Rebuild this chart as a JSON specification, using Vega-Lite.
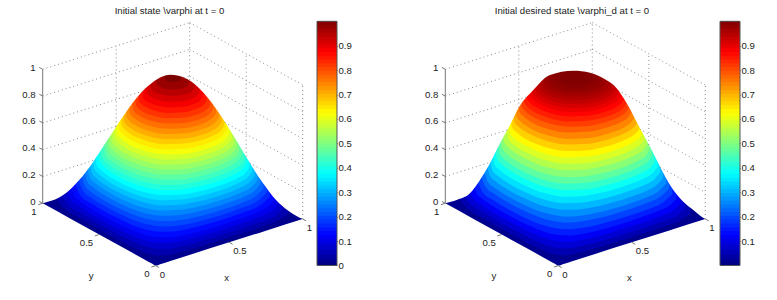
{"$schema":"https://vega.github.io/schema/vega-lite/v6.json","padding":0,"background":"white","spacing":0,"bounds":"flush","config":{"view":{"stroke":null}},
"datasets":{
"levels":[{"s":0,"r":0,"k":0.016},{"s":0.03,"r":0.033,"k":0.05},{"s":0.06,"r":0.066,"k":0.083},{"s":0.09,"r":0.1,"k":0.117},{"s":0.12,"r":0.135,"k":0.152},{"s":0.15,"r":0.17,"k":0.19},{"s":0.18,"r":0.21,"k":0.227},{"s":0.21,"r":0.245,"k":0.265},{"s":0.24,"r":0.285,"k":0.305},{"s":0.27,"r":0.325,"k":0.345},{"s":0.3,"r":0.365,"k":0.385},{"s":0.33,"r":0.405,"k":0.425},{"s":0.36,"r":0.445,"k":0.466},{"s":0.39,"r":0.487,"k":0.508},{"s":0.42,"r":0.53,"k":0.55},{"s":0.45,"r":0.57,"k":0.59},{"s":0.48,"r":0.61,"k":0.63},{"s":0.51,"r":0.65,"k":0.67},{"s":0.54,"r":0.69,"k":0.708},{"s":0.57,"r":0.725,"k":0.745},{"s":0.6,"r":0.765,"k":0.782},{"s":0.63,"r":0.8,"k":0.815},{"s":0.66,"r":0.83,"k":0.845},{"s":0.69,"r":0.86,"k":0.872},{"s":0.72,"r":0.885,"k":0.895},{"s":0.75,"r":0.905,"k":0.915},{"s":0.78,"r":0.925,"k":0.935},{"s":0.81,"r":0.945,"k":0.952},{"s":0.84,"r":0.96,"k":0.965},{"s":0.87,"r":0.97,"k":0.975},{"s":0.9,"r":0.98,"k":0.985},{"s":0.93,"r":0.99,"k":0.992},{"s":0.96,"r":0.995,"k":0.997},{"s":0.99,"r":1,"k":1}],
"contours":[
{"s":0,"x":0,"y":1},{"s":0,"x":0,"y":0.75},{"s":0,"x":0,"y":0.5},{"s":0,"x":0,"y":0.25},{"s":0,"x":0,"y":0.1},{"s":0,"x":0,"y":0.03},{"s":0,"x":0,"y":0},{"s":0,"x":0.03,"y":0},{"s":0,"x":0.1,"y":0},{"s":0,"x":0.25,"y":0},{"s":0,"x":0.5,"y":0},{"s":0,"x":0.75,"y":0},{"s":0,"x":1,"y":0},
{"s":0.03,"x":0.056,"y":0.944},{"s":0.03,"x":0.018,"y":0.824},{"s":0.03,"x":0.012,"y":0.707},{"s":0.03,"x":0.01,"y":0.593},{"s":0.03,"x":0.01,"y":0.482},{"s":0.03,"x":0.01,"y":0.371},{"s":0.03,"x":0.013,"y":0.263},{"s":0.03,"x":0.02,"y":0.159},{"s":0.03,"x":0.034,"y":0.09},{"s":0.03,"x":0.056,"y":0.056},{"s":0.03,"x":0.09,"y":0.034},{"s":0.03,"x":0.159,"y":0.02},{"s":0.03,"x":0.263,"y":0.013},{"s":0.03,"x":0.371,"y":0.01},{"s":0.03,"x":0.482,"y":0.01},{"s":0.03,"x":0.593,"y":0.01},{"s":0.03,"x":0.707,"y":0.012},{"s":0.03,"x":0.824,"y":0.018},{"s":0.03,"x":0.944,"y":0.056},
{"s":0.06,"x":0.079,"y":0.921},{"s":0.06,"x":0.041,"y":0.847},{"s":0.06,"x":0.025,"y":0.719},{"s":0.06,"x":0.02,"y":0.604},{"s":0.06,"x":0.019,"y":0.491},{"s":0.06,"x":0.02,"y":0.382},{"s":0.06,"x":0.025,"y":0.275},{"s":0.06,"x":0.037,"y":0.176},{"s":0.06,"x":0.056,"y":0.111},{"s":0.06,"x":0.079,"y":0.079},{"s":0.06,"x":0.111,"y":0.056},{"s":0.06,"x":0.176,"y":0.037},{"s":0.06,"x":0.275,"y":0.025},{"s":0.06,"x":0.382,"y":0.02},{"s":0.06,"x":0.491,"y":0.019},{"s":0.06,"x":0.604,"y":0.02},{"s":0.06,"x":0.719,"y":0.025},{"s":0.06,"x":0.847,"y":0.041},{"s":0.06,"x":0.921,"y":0.079},
{"s":0.09,"x":0.097,"y":0.903},{"s":0.09,"x":0.059,"y":0.836},{"s":0.09,"x":0.039,"y":0.733},{"s":0.09,"x":0.031,"y":0.614},{"s":0.09,"x":0.029,"y":0.501},{"s":0.09,"x":0.03,"y":0.391},{"s":0.09,"x":0.036,"y":0.287},{"s":0.09,"x":0.051,"y":0.19},{"s":0.09,"x":0.073,"y":0.129},{"s":0.09,"x":0.097,"y":0.097},{"s":0.09,"x":0.129,"y":0.073},{"s":0.09,"x":0.19,"y":0.051},{"s":0.09,"x":0.287,"y":0.036},{"s":0.09,"x":0.391,"y":0.03},{"s":0.09,"x":0.501,"y":0.029},{"s":0.09,"x":0.614,"y":0.031},{"s":0.09,"x":0.733,"y":0.039},{"s":0.09,"x":0.836,"y":0.059},{"s":0.09,"x":0.903,"y":0.097},
{"s":0.12,"x":0.112,"y":0.888},{"s":0.12,"x":0.067,"y":0.806},{"s":0.12,"x":0.054,"y":0.749},{"s":0.12,"x":0.041,"y":0.625},{"s":0.12,"x":0.038,"y":0.511},{"s":0.12,"x":0.04,"y":0.401},{"s":0.12,"x":0.048,"y":0.298},{"s":0.12,"x":0.064,"y":0.203},{"s":0.12,"x":0.088,"y":0.144},{"s":0.12,"x":0.1125,"y":0.1125},{"s":0.12,"x":0.144,"y":0.088},{"s":0.12,"x":0.203,"y":0.064},{"s":0.12,"x":0.298,"y":0.048},{"s":0.12,"x":0.401,"y":0.04},{"s":0.12,"x":0.511,"y":0.038},{"s":0.12,"x":0.625,"y":0.041},{"s":0.12,"x":0.749,"y":0.054},{"s":0.12,"x":0.806,"y":0.067},{"s":0.12,"x":0.888,"y":0.112},
{"s":0.15,"x":0.127,"y":0.873},{"s":0.15,"x":0.072,"y":0.766},{"s":0.15,"x":0.053,"y":0.636},{"s":0.15,"x":0.048,"y":0.52},{"s":0.15,"x":0.05,"y":0.411},{"s":0.15,"x":0.058,"y":0.308},{"s":0.15,"x":0.077,"y":0.216},{"s":0.15,"x":0.102,"y":0.158},{"s":0.15,"x":0.127,"y":0.127},{"s":0.15,"x":0.158,"y":0.102},{"s":0.15,"x":0.216,"y":0.077},{"s":0.15,"x":0.308,"y":0.058},{"s":0.15,"x":0.411,"y":0.05},{"s":0.15,"x":0.52,"y":0.048},{"s":0.15,"x":0.636,"y":0.053},{"s":0.15,"x":0.766,"y":0.072},{"s":0.15,"x":0.873,"y":0.127},
{"s":0.18,"x":0.139,"y":0.861},{"s":0.18,"x":0.081,"y":0.748},{"s":0.18,"x":0.064,"y":0.648},{"s":0.18,"x":0.058,"y":0.53},{"s":0.18,"x":0.059,"y":0.421},{"s":0.18,"x":0.069,"y":0.319},{"s":0.18,"x":0.089,"y":0.228},{"s":0.18,"x":0.115,"y":0.17},{"s":0.18,"x":0.139,"y":0.139},{"s":0.18,"x":0.17,"y":0.115},{"s":0.18,"x":0.228,"y":0.089},{"s":0.18,"x":0.319,"y":0.069},{"s":0.18,"x":0.421,"y":0.059},{"s":0.18,"x":0.53,"y":0.058},{"s":0.18,"x":0.648,"y":0.064},{"s":0.18,"x":0.748,"y":0.081},{"s":0.18,"x":0.861,"y":0.139},
{"s":0.21,"x":0.151,"y":0.849},{"s":0.21,"x":0.097,"y":0.752},{"s":0.21,"x":0.077,"y":0.661},{"s":0.21,"x":0.068,"y":0.54},{"s":0.21,"x":0.069,"y":0.43},{"s":0.21,"x":0.079,"y":0.329},{"s":0.21,"x":0.1,"y":0.239},{"s":0.21,"x":0.127,"y":0.182},{"s":0.21,"x":0.151,"y":0.151},{"s":0.21,"x":0.182,"y":0.127},{"s":0.21,"x":0.239,"y":0.1},{"s":0.21,"x":0.329,"y":0.079},{"s":0.21,"x":0.43,"y":0.069},{"s":0.21,"x":0.54,"y":0.068},{"s":0.21,"x":0.661,"y":0.077},{"s":0.21,"x":0.752,"y":0.097},{"s":0.21,"x":0.849,"y":0.151},
{"s":0.24,"x":0.163,"y":0.837},{"s":0.24,"x":0.11,"y":0.749},{"s":0.24,"x":0.09,"y":0.674},{"s":0.24,"x":0.078,"y":0.55},{"s":0.24,"x":0.079,"y":0.44},{"s":0.24,"x":0.089,"y":0.339},{"s":0.24,"x":0.11,"y":0.25},{"s":0.24,"x":0.138,"y":0.194},{"s":0.24,"x":0.163,"y":0.163},{"s":0.24,"x":0.194,"y":0.138},{"s":0.24,"x":0.25,"y":0.11},{"s":0.24,"x":0.339,"y":0.089},{"s":0.24,"x":0.44,"y":0.079},{"s":0.24,"x":0.55,"y":0.078},{"s":0.24,"x":0.674,"y":0.09},{"s":0.24,"x":0.749,"y":0.11},{"s":0.24,"x":0.837,"y":0.163},
{"s":0.27,"x":0.174,"y":0.826},{"s":0.27,"x":0.123,"y":0.745},{"s":0.27,"x":0.099,"y":0.654},{"s":0.27,"x":0.089,"y":0.561},{"s":0.27,"x":0.088,"y":0.449},{"s":0.27,"x":0.098,"y":0.348},{"s":0.27,"x":0.121,"y":0.26},{"s":0.27,"x":0.174,"y":0.174},{"s":0.27,"x":0.26,"y":0.121},{"s":0.27,"x":0.348,"y":0.098},{"s":0.27,"x":0.449,"y":0.088},{"s":0.27,"x":0.561,"y":0.089},{"s":0.27,"x":0.654,"y":0.099},{"s":0.27,"x":0.745,"y":0.123},{"s":0.27,"x":0.826,"y":0.174},
{"s":0.3,"x":0.184,"y":0.816},{"s":0.3,"x":0.135,"y":0.741},{"s":0.3,"x":0.113,"y":0.669},{"s":0.3,"x":0.1,"y":0.572},{"s":0.3,"x":0.098,"y":0.459},{"s":0.3,"x":0.108,"y":0.358},{"s":0.3,"x":0.131,"y":0.27},{"s":0.3,"x":0.184,"y":0.184},{"s":0.3,"x":0.27,"y":0.131},{"s":0.3,"x":0.358,"y":0.108},{"s":0.3,"x":0.459,"y":0.098},{"s":0.3,"x":0.572,"y":0.1},{"s":0.3,"x":0.669,"y":0.113},{"s":0.3,"x":0.741,"y":0.135},{"s":0.3,"x":0.816,"y":0.184},
{"s":0.33,"x":0.195,"y":0.805},{"s":0.33,"x":0.148,"y":0.737},{"s":0.33,"x":0.124,"y":0.663},{"s":0.33,"x":0.111,"y":0.583},{"s":0.33,"x":0.108,"y":0.469},{"s":0.33,"x":0.118,"y":0.368},{"s":0.33,"x":0.141,"y":0.28},{"s":0.33,"x":0.195,"y":0.195},{"s":0.33,"x":0.28,"y":0.141},{"s":0.33,"x":0.368,"y":0.118},{"s":0.33,"x":0.469,"y":0.108},{"s":0.33,"x":0.583,"y":0.111},{"s":0.33,"x":0.663,"y":0.124},{"s":0.33,"x":0.737,"y":0.148},{"s":0.33,"x":0.805,"y":0.195},
{"s":0.36,"x":0.205,"y":0.795},{"s":0.36,"x":0.161,"y":0.733},{"s":0.36,"x":0.138,"y":0.671},{"s":0.36,"x":0.123,"y":0.595},{"s":0.36,"x":0.118,"y":0.479},{"s":0.36,"x":0.127,"y":0.377},{"s":0.36,"x":0.151,"y":0.29},{"s":0.36,"x":0.205,"y":0.205},{"s":0.36,"x":0.29,"y":0.151},{"s":0.36,"x":0.377,"y":0.127},{"s":0.36,"x":0.479,"y":0.118},{"s":0.36,"x":0.595,"y":0.123},{"s":0.36,"x":0.671,"y":0.138},{"s":0.36,"x":0.733,"y":0.161},{"s":0.36,"x":0.795,"y":0.205},
{"s":0.39,"x":0.215,"y":0.785},{"s":0.39,"x":0.174,"y":0.729},{"s":0.39,"x":0.151,"y":0.673},{"s":0.39,"x":0.133,"y":0.589},{"s":0.39,"x":0.127,"y":0.489},{"s":0.39,"x":0.137,"y":0.387},{"s":0.39,"x":0.16,"y":0.3},{"s":0.39,"x":0.215,"y":0.215},{"s":0.39,"x":0.3,"y":0.16},{"s":0.39,"x":0.387,"y":0.137},{"s":0.39,"x":0.489,"y":0.127},{"s":0.39,"x":0.589,"y":0.133},{"s":0.39,"x":0.673,"y":0.151},{"s":0.39,"x":0.729,"y":0.174},{"s":0.39,"x":0.785,"y":0.215},
{"s":0.42,"x":0.224,"y":0.776},{"s":0.42,"x":0.186,"y":0.726},{"s":0.42,"x":0.164,"y":0.675},{"s":0.42,"x":0.144,"y":0.588},{"s":0.42,"x":0.138,"y":0.499},{"s":0.42,"x":0.146,"y":0.396},{"s":0.42,"x":0.17,"y":0.309},{"s":0.42,"x":0.224,"y":0.224},{"s":0.42,"x":0.309,"y":0.17},{"s":0.42,"x":0.396,"y":0.146},{"s":0.42,"x":0.499,"y":0.138},{"s":0.42,"x":0.588,"y":0.144},{"s":0.42,"x":0.675,"y":0.164},{"s":0.42,"x":0.726,"y":0.186},{"s":0.42,"x":0.776,"y":0.224},
{"s":0.45,"x":0.234,"y":0.766},{"s":0.45,"x":0.2,"y":0.722},{"s":0.45,"x":0.175,"y":0.67},{"s":0.45,"x":0.155,"y":0.588},{"s":0.45,"x":0.149,"y":0.493},{"s":0.45,"x":0.156,"y":0.406},{"s":0.45,"x":0.18,"y":0.319},{"s":0.45,"x":0.234,"y":0.234},{"s":0.45,"x":0.319,"y":0.18},{"s":0.45,"x":0.406,"y":0.156},{"s":0.45,"x":0.493,"y":0.149},{"s":0.45,"x":0.588,"y":0.155},{"s":0.45,"x":0.67,"y":0.175},{"s":0.45,"x":0.722,"y":0.2},{"s":0.45,"x":0.766,"y":0.234},
{"s":0.48,"x":0.244,"y":0.756},{"s":0.48,"x":0.213,"y":0.719},{"s":0.48,"x":0.19,"y":0.673},{"s":0.48,"x":0.166,"y":0.589},{"s":0.48,"x":0.16,"y":0.493},{"s":0.48,"x":0.166,"y":0.416},{"s":0.48,"x":0.189,"y":0.328},{"s":0.48,"x":0.244,"y":0.244},{"s":0.48,"x":0.328,"y":0.189},{"s":0.48,"x":0.416,"y":0.166},{"s":0.48,"x":0.493,"y":0.16},{"s":0.48,"x":0.589,"y":0.166},{"s":0.48,"x":0.673,"y":0.19},{"s":0.48,"x":0.719,"y":0.213},{"s":0.48,"x":0.756,"y":0.244},
{"s":0.51,"x":0.253,"y":0.747},{"s":0.51,"x":0.228,"y":0.717},{"s":0.51,"x":0.205,"y":0.677},{"s":0.51,"x":0.18,"y":0.596},{"s":0.51,"x":0.17,"y":0.504},{"s":0.51,"x":0.176,"y":0.426},{"s":0.51,"x":0.199,"y":0.338},{"s":0.51,"x":0.253,"y":0.253},{"s":0.51,"x":0.338,"y":0.199},{"s":0.51,"x":0.426,"y":0.176},{"s":0.51,"x":0.504,"y":0.17},{"s":0.51,"x":0.596,"y":0.18},{"s":0.51,"x":0.677,"y":0.205},{"s":0.51,"x":0.717,"y":0.228},{"s":0.51,"x":0.747,"y":0.253},
{"s":0.54,"x":0.263,"y":0.737},{"s":0.54,"x":0.244,"y":0.717},{"s":0.54,"x":0.212,"y":0.663},{"s":0.54,"x":0.19,"y":0.59},{"s":0.54,"x":0.182,"y":0.515},{"s":0.54,"x":0.186,"y":0.436},{"s":0.54,"x":0.208,"y":0.347},{"s":0.54,"x":0.263,"y":0.263},{"s":0.54,"x":0.347,"y":0.208},{"s":0.54,"x":0.436,"y":0.186},{"s":0.54,"x":0.515,"y":0.182},{"s":0.54,"x":0.59,"y":0.19},{"s":0.54,"x":0.663,"y":0.212},{"s":0.54,"x":0.717,"y":0.244},{"s":0.54,"x":0.737,"y":0.263},
{"s":0.57,"x":0.272,"y":0.728},{"s":0.57,"x":0.23,"y":0.668},{"s":0.57,"x":0.206,"y":0.606},{"s":0.57,"x":0.194,"y":0.527},{"s":0.57,"x":0.196,"y":0.446},{"s":0.57,"x":0.218,"y":0.357},{"s":0.57,"x":0.272,"y":0.272},{"s":0.57,"x":0.357,"y":0.218},{"s":0.57,"x":0.446,"y":0.196},{"s":0.57,"x":0.527,"y":0.194},{"s":0.57,"x":0.606,"y":0.206},{"s":0.57,"x":0.668,"y":0.23},{"s":0.57,"x":0.728,"y":0.272},
{"s":0.6,"x":0.282,"y":0.718},{"s":0.6,"x":0.237,"y":0.653},{"s":0.6,"x":0.216,"y":0.593},{"s":0.6,"x":0.205,"y":0.51},{"s":0.6,"x":0.21,"y":0.432},{"s":0.6,"x":0.228,"y":0.367},{"s":0.6,"x":0.282,"y":0.282},{"s":0.6,"x":0.367,"y":0.228},{"s":0.6,"x":0.432,"y":0.21},{"s":0.6,"x":0.51,"y":0.205},{"s":0.6,"x":0.593,"y":0.216},{"s":0.6,"x":0.653,"y":0.237},{"s":0.6,"x":0.718,"y":0.282},
{"s":0.63,"x":0.292,"y":0.708},{"s":0.63,"x":0.25,"y":0.65},{"s":0.63,"x":0.229,"y":0.596},{"s":0.63,"x":0.218,"y":0.523},{"s":0.63,"x":0.221,"y":0.443},{"s":0.63,"x":0.238,"y":0.377},{"s":0.63,"x":0.292,"y":0.292},{"s":0.63,"x":0.377,"y":0.238},{"s":0.63,"x":0.443,"y":0.221},{"s":0.63,"x":0.523,"y":0.218},{"s":0.63,"x":0.596,"y":0.229},{"s":0.63,"x":0.65,"y":0.25},{"s":0.63,"x":0.708,"y":0.292},
{"s":0.66,"x":0.302,"y":0.698},{"s":0.66,"x":0.264,"y":0.647},{"s":0.66,"x":0.242,"y":0.592},{"s":0.66,"x":0.23,"y":0.519},{"s":0.66,"x":0.232,"y":0.454},{"s":0.66,"x":0.249,"y":0.388},{"s":0.66,"x":0.302,"y":0.302},{"s":0.66,"x":0.388,"y":0.249},{"s":0.66,"x":0.454,"y":0.232},{"s":0.66,"x":0.519,"y":0.23},{"s":0.66,"x":0.592,"y":0.242},{"s":0.66,"x":0.647,"y":0.264},{"s":0.66,"x":0.698,"y":0.302},
{"s":0.69,"x":0.312,"y":0.688},{"s":0.69,"x":0.276,"y":0.64},{"s":0.69,"x":0.254,"y":0.588},{"s":0.69,"x":0.243,"y":0.521},{"s":0.69,"x":0.245,"y":0.456},{"s":0.69,"x":0.259,"y":0.398},{"s":0.69,"x":0.312,"y":0.312},{"s":0.69,"x":0.398,"y":0.259},{"s":0.69,"x":0.456,"y":0.245},{"s":0.69,"x":0.521,"y":0.243},{"s":0.69,"x":0.588,"y":0.254},{"s":0.69,"x":0.64,"y":0.276},{"s":0.69,"x":0.688,"y":0.312},
{"s":0.72,"x":0.322,"y":0.678},{"s":0.72,"x":0.289,"y":0.634},{"s":0.72,"x":0.268,"y":0.585},{"s":0.72,"x":0.257,"y":0.523},{"s":0.72,"x":0.258,"y":0.469},{"s":0.72,"x":0.27,"y":0.409},{"s":0.72,"x":0.3225,"y":0.3225},{"s":0.72,"x":0.409,"y":0.27},{"s":0.72,"x":0.469,"y":0.258},{"s":0.72,"x":0.523,"y":0.257},{"s":0.72,"x":0.585,"y":0.268},{"s":0.72,"x":0.634,"y":0.289},{"s":0.72,"x":0.678,"y":0.322},
{"s":0.75,"x":0.333,"y":0.667},{"s":0.75,"x":0.304,"y":0.629},{"s":0.75,"x":0.283,"y":0.583},{"s":0.75,"x":0.271,"y":0.521},{"s":0.75,"x":0.272,"y":0.466},{"s":0.75,"x":0.281,"y":0.421},{"s":0.75,"x":0.333,"y":0.333},{"s":0.75,"x":0.421,"y":0.281},{"s":0.75,"x":0.466,"y":0.272},{"s":0.75,"x":0.521,"y":0.271},{"s":0.75,"x":0.583,"y":0.283},{"s":0.75,"x":0.629,"y":0.304},{"s":0.75,"x":0.667,"y":0.333},
{"s":0.78,"x":0.345,"y":0.655},{"s":0.78,"x":0.321,"y":0.626},{"s":0.78,"x":0.302,"y":0.591},{"s":0.78,"x":0.287,"y":0.537},{"s":0.78,"x":0.285,"y":0.48},{"s":0.78,"x":0.298,"y":0.42},{"s":0.78,"x":0.345,"y":0.345},{"s":0.78,"x":0.42,"y":0.298},{"s":0.78,"x":0.48,"y":0.285},{"s":0.78,"x":0.537,"y":0.287},{"s":0.78,"x":0.591,"y":0.302},{"s":0.78,"x":0.626,"y":0.321},{"s":0.78,"x":0.655,"y":0.345},
{"s":0.81,"x":0.356,"y":0.644},{"s":0.81,"x":0.337,"y":0.62},{"s":0.81,"x":0.317,"y":0.583},{"s":0.81,"x":0.302,"y":0.53},{"s":0.81,"x":0.301,"y":0.479},{"s":0.81,"x":0.311,"y":0.433},{"s":0.81,"x":0.356,"y":0.356},{"s":0.81,"x":0.433,"y":0.311},{"s":0.81,"x":0.479,"y":0.301},{"s":0.81,"x":0.53,"y":0.302},{"s":0.81,"x":0.583,"y":0.317},{"s":0.81,"x":0.62,"y":0.337},{"s":0.81,"x":0.644,"y":0.356},
{"s":0.84,"x":0.369,"y":0.631},{"s":0.84,"x":0.351,"y":0.609},{"s":0.84,"x":0.333,"y":0.578},{"s":0.84,"x":0.32,"y":0.531},{"s":0.84,"x":0.318,"y":0.485},{"s":0.84,"x":0.327,"y":0.438},{"s":0.84,"x":0.369,"y":0.369},{"s":0.84,"x":0.438,"y":0.327},{"s":0.84,"x":0.485,"y":0.318},{"s":0.84,"x":0.531,"y":0.32},{"s":0.84,"x":0.578,"y":0.333},{"s":0.84,"x":0.609,"y":0.351},{"s":0.84,"x":0.631,"y":0.369},
{"s":0.87,"x":0.383,"y":0.617},{"s":0.87,"x":0.348,"y":0.565},{"s":0.87,"x":0.337,"y":0.52},{"s":0.87,"x":0.337,"y":0.481},{"s":0.87,"x":0.345,"y":0.445},{"s":0.87,"x":0.383,"y":0.383},{"s":0.87,"x":0.445,"y":0.345},{"s":0.87,"x":0.481,"y":0.337},{"s":0.87,"x":0.52,"y":0.337},{"s":0.87,"x":0.565,"y":0.348},{"s":0.87,"x":0.617,"y":0.383},
{"s":0.9,"x":0.397,"y":0.603},{"s":0.9,"x":0.367,"y":0.556},{"s":0.9,"x":0.358,"y":0.519},{"s":0.9,"x":0.357,"y":0.485},{"s":0.9,"x":0.364,"y":0.453},{"s":0.9,"x":0.3975,"y":0.3975},{"s":0.9,"x":0.453,"y":0.364},{"s":0.9,"x":0.485,"y":0.357},{"s":0.9,"x":0.519,"y":0.358},{"s":0.9,"x":0.556,"y":0.367},{"s":0.9,"x":0.603,"y":0.397},
{"s":0.93,"x":0.415,"y":0.585},{"s":0.93,"x":0.388,"y":0.544},{"s":0.93,"x":0.381,"y":0.514},{"s":0.93,"x":0.381,"y":0.486},{"s":0.93,"x":0.387,"y":0.459},{"s":0.93,"x":0.415,"y":0.415},{"s":0.93,"x":0.459,"y":0.387},{"s":0.93,"x":0.486,"y":0.381},{"s":0.93,"x":0.514,"y":0.381},{"s":0.93,"x":0.544,"y":0.388},{"s":0.93,"x":0.585,"y":0.415},
{"s":0.96,"x":0.436,"y":0.564},{"s":0.96,"x":0.413,"y":0.524},{"s":0.96,"x":0.41,"y":0.499},{"s":0.96,"x":0.413,"y":0.474},{"s":0.96,"x":0.436,"y":0.436},{"s":0.96,"x":0.474,"y":0.413},{"s":0.96,"x":0.499,"y":0.41},{"s":0.96,"x":0.524,"y":0.413},{"s":0.96,"x":0.564,"y":0.436},
{"s":0.99,"x":0.468,"y":0.532},{"s":0.99,"x":0.455,"y":0.5},{"s":0.99,"x":0.468,"y":0.468},{"s":0.99,"x":0.5,"y":0.455},{"s":0.99,"x":0.532,"y":0.468}
],
"outlineL":[{"u":-115,"v":61.8},{"u":-113,"v":62.4},{"u":-95.7,"v":68.7},{"u":-89.3,"v":72.9},{"u":-76.5,"v":85.6},{"u":-62.9,"v":103.3},{"u":-49.1,"v":124.4},{"u":-34.3,"v":147},{"u":-18.7,"v":168.3},{"u":-2.3,"v":183.9},{"u":14.5,"v":190.9},{"u":31.4,"v":186.8},{"u":48.1,"v":172.8},{"u":64,"v":151.7},{"u":79.4,"v":127.5},{"u":93.6,"v":103.6},{"u":107.2,"v":82.6},{"u":120.3,"v":65.7},{"u":133,"v":54.6},{"u":147,"v":46.7},{"u":149,"v":46}],
"outlineR":[{"u":-115,"v":61.8},{"u":-113,"v":62.4},{"u":-101.6,"v":65.7},{"u":-88.3,"v":72.4},{"u":-78.3,"v":85.7},{"u":-68.3,"v":102.4},{"u":-58.3,"v":122.4},{"u":-48.3,"v":140.7},{"u":-40,"v":157.4},{"u":-25,"v":175.7},{"u":-8.3,"v":190.7},{"u":15,"v":195},{"u":31.7,"v":193},{"u":45,"v":187.4},{"u":58.4,"v":177.4},{"u":68.4,"v":162.4},{"u":81.7,"v":137.4},{"u":93.4,"v":115.7},{"u":101.7,"v":99},{"u":111.7,"v":80.7},{"u":125,"v":64},{"u":135,"v":55.7},{"u":147,"v":46.7},{"u":149,"v":46}],
"wallsL":[{"id":"a","x":0,"y":1,"z":1},{"id":"a","x":1,"y":1,"z":1},{"id":"b","x":0,"y":1,"z":0.8},{"id":"b","x":1,"y":1,"z":0.8},{"id":"c","x":0,"y":1,"z":0.6},{"id":"c","x":0.69,"y":1,"z":0.6},{"id":"c2","x":0.96,"y":1,"z":0.6},{"id":"c2","x":1,"y":1,"z":0.6},{"id":"d","x":0,"y":1,"z":0.4},{"id":"d","x":0.5,"y":1,"z":0.4},{"id":"e","x":0,"y":1,"z":0.2},{"id":"e","x":0.356,"y":1,"z":0.2},{"id":"f","x":1,"y":1,"z":1},{"id":"f","x":1,"y":0,"z":1},{"id":"g","x":1,"y":1,"z":0.8},{"id":"g","x":1,"y":0,"z":0.8},{"id":"h","x":1,"y":1,"z":0.6},{"id":"h","x":1,"y":0,"z":0.6},{"id":"i","x":1,"y":0.69,"z":0.4},{"id":"i","x":1,"y":0,"z":0.4},{"id":"j","x":1,"y":0.47,"z":0.2},{"id":"j","x":1,"y":0,"z":0.2},{"id":"k","x":1,"y":1,"z":0.57},{"id":"k","x":1,"y":1,"z":1},{"id":"l","x":0.5,"y":1,"z":0.4},{"id":"l","x":0.5,"y":1,"z":1},{"id":"m","x":1,"y":0.5,"z":0.232},{"id":"m","x":1,"y":0.5,"z":1},{"id":"n","x":1,"y":0,"z":0},{"id":"n","x":1,"y":0,"z":1}],
"wallsR":[{"id":"a","x":0,"y":1,"z":1},{"id":"a","x":1,"y":1,"z":1},{"id":"b","x":0,"y":1,"z":0.8},{"id":"b","x":1,"y":1,"z":0.8},{"id":"c","x":0,"y":1,"z":0.6},{"id":"c","x":0.57,"y":1,"z":0.6},{"id":"d","x":0,"y":1,"z":0.4},{"id":"d","x":0.43,"y":1,"z":0.4},{"id":"e","x":0,"y":1,"z":0.2},{"id":"e","x":0.3,"y":1,"z":0.2},{"id":"f","x":1,"y":1,"z":1},{"id":"f","x":1,"y":0,"z":1},{"id":"g","x":1,"y":1,"z":0.8},{"id":"g","x":1,"y":0,"z":0.8},{"id":"h","x":1,"y":0.77,"z":0.6},{"id":"h","x":1,"y":0,"z":0.6},{"id":"i","x":1,"y":0.58,"z":0.4},{"id":"i","x":1,"y":0,"z":0.4},{"id":"j","x":1,"y":0.4,"z":0.2},{"id":"j","x":1,"y":0,"z":0.2},{"id":"k","x":1,"y":1,"z":0.62},{"id":"k","x":1,"y":1,"z":1},{"id":"l","x":0.5,"y":1,"z":0.54},{"id":"l","x":0.5,"y":1,"z":1},{"id":"m","x":1,"y":0.5,"z":0.32},{"id":"m","x":1,"y":0.5,"z":1},{"id":"n","x":1,"y":0,"z":0},{"id":"n","x":1,"y":0,"z":1}],
"ax":[{"id":"z","x":0,"y":1,"z":0},{"id":"z","x":0,"y":1,"z":1},{"id":"z0","x":0,"y":1,"z":0},{"id":"z0","x":0,"y":1.03,"z":0},{"id":"z2","x":0,"y":1,"z":0.2},{"id":"z2","x":0,"y":1.03,"z":0.2},{"id":"z4","x":0,"y":1,"z":0.4},{"id":"z4","x":0,"y":1.03,"z":0.4},{"id":"z6","x":0,"y":1,"z":0.6},{"id":"z6","x":0,"y":1.03,"z":0.6},{"id":"z8","x":0,"y":1,"z":0.8},{"id":"z8","x":0,"y":1.03,"z":0.8},{"id":"z10","x":0,"y":1,"z":1},{"id":"z10","x":0,"y":1.03,"z":1},{"id":"x0","x":0,"y":0,"z":0},{"id":"x0","x":0,"y":-0.03,"z":0},{"id":"x5","x":0.5,"y":0,"z":0},{"id":"x5","x":0.5,"y":-0.03,"z":0},{"id":"x1","x":1,"y":0,"z":0},{"id":"x1","x":1,"y":-0.03,"z":0},{"id":"y0","x":0,"y":0,"z":0},{"id":"y0","x":-0.03,"y":0,"z":0},{"id":"y5","x":0,"y":0.5,"z":0},{"id":"y5","x":-0.03,"y":0.5,"z":0},{"id":"y1","x":0,"y":1,"z":0},{"id":"y1","x":-0.03,"y":1,"z":0}],
"zticks":[{"t":"0","x":0,"y":1,"z":0},{"t":"0.2","x":0,"y":1,"z":0.2},{"t":"0.4","x":0,"y":1,"z":0.4},{"t":"0.6","x":0,"y":1,"z":0.6},{"t":"0.8","x":0,"y":1,"z":0.8},{"t":"1","x":0,"y":1,"z":1}],
"xticks":[{"t":"0","x":0,"y":0,"z":0},{"t":"0.5","x":0.5,"y":0,"z":0},{"t":"1","x":1,"y":0,"z":0}],
"yticks":[{"t":"0","x":0,"y":0,"z":0},{"t":"0.5","x":0,"y":0.5,"z":0},{"t":"1","x":0,"y":1,"z":0}],
"bar":[{"a":0,"c":0.008},{"a":0.016,"c":0.023},{"a":0.031,"c":0.039},{"a":0.047,"c":0.055},{"a":0.063,"c":0.07},{"a":0.078,"c":0.086},{"a":0.094,"c":0.102},{"a":0.109,"c":0.117},{"a":0.125,"c":0.133},{"a":0.141,"c":0.148},{"a":0.156,"c":0.164},{"a":0.172,"c":0.18},{"a":0.188,"c":0.195},{"a":0.203,"c":0.211},{"a":0.219,"c":0.227},{"a":0.234,"c":0.242},{"a":0.25,"c":0.258},{"a":0.266,"c":0.273},{"a":0.281,"c":0.289},{"a":0.297,"c":0.305},{"a":0.313,"c":0.32},{"a":0.328,"c":0.336},{"a":0.344,"c":0.352},{"a":0.359,"c":0.367},{"a":0.375,"c":0.383},{"a":0.391,"c":0.398},{"a":0.406,"c":0.414},{"a":0.422,"c":0.43},{"a":0.438,"c":0.445},{"a":0.453,"c":0.461},{"a":0.469,"c":0.477},{"a":0.484,"c":0.492},{"a":0.5,"c":0.508},{"a":0.516,"c":0.523},{"a":0.531,"c":0.539},{"a":0.547,"c":0.555},{"a":0.563,"c":0.57},{"a":0.578,"c":0.586},{"a":0.594,"c":0.602},{"a":0.609,"c":0.617},{"a":0.625,"c":0.633},{"a":0.641,"c":0.648},{"a":0.656,"c":0.664},{"a":0.672,"c":0.68},{"a":0.688,"c":0.695},{"a":0.703,"c":0.711},{"a":0.719,"c":0.727},{"a":0.734,"c":0.742},{"a":0.75,"c":0.758},{"a":0.766,"c":0.773},{"a":0.781,"c":0.789},{"a":0.797,"c":0.805},{"a":0.813,"c":0.82},{"a":0.828,"c":0.836},{"a":0.844,"c":0.852},{"a":0.859,"c":0.867},{"a":0.875,"c":0.883},{"a":0.891,"c":0.898},{"a":0.906,"c":0.914},{"a":0.922,"c":0.93},{"a":0.938,"c":0.945},{"a":0.953,"c":0.961},{"a":0.969,"c":0.977},{"a":0.984,"c":0.992}]
},
"hconcat":[
{"width":317,"height":300,
"title":{"text":"Initial state \\varphi at t = 0","font":"Liberation Sans","fontSize":9.6,"fontWeight":"normal","color":"#222","anchor":"middle","frame":"group","offset":0,"dx":11,"dy":16},
"encoding":{"x":{"field":"u","type":"quantitative","axis":null,"scale":{"domain":[-155.7,161.3],"nice":false,"zero":false}},"y":{"field":"v","type":"quantitative","axis":null,"scale":{"domain":[-34.3,265.7],"nice":false,"zero":false}}},
"layer":[
{"data":{"name":"contours"},"transform":[{"calculate":"datum.s+0.015","as":"k"},{"calculate":"147*datum.x-113*datum.y","as":"u"},{"calculate":"46.7*datum.x+62.4*datum.y+134*datum.s","as":"v"}],"mark":{"type":"area","interpolate":"monotone"},"encoding":{"y2":{"datum":265.7},"detail":{"field":"s"},"color":{"field":"k","type":"quantitative","legend":null,"scale":{"domain":[0,0.125,0.375,0.625,0.875,1],"range":["#000080","#0000ff","#00ffff","#ffff00","#ff0000","#800000"],"interpolate":"rgb"}}}},
{"data":{"name":"outlineL"},"mark":{"type":"area","interpolate":"monotone","color":"white"},"encoding":{"y2":{"datum":265.7}}},
{"data":{"name":"wallsL"},"transform":[{"calculate":"147*datum.x-113*datum.y","as":"u"},{"calculate":"46.7*datum.x+62.4*datum.y+134*datum.z","as":"v"}],"mark":{"type":"line","color":"#8a8a8a","strokeWidth":1,"strokeDash":[1,3]},"encoding":{"detail":{"field":"id"}}},
{"data":{"name":"ax"},"transform":[{"calculate":"147*datum.x-113*datum.y","as":"u"},{"calculate":"46.7*datum.x+62.4*datum.y+134*datum.z","as":"v"}],"mark":{"type":"line","color":"#777","strokeWidth":1},"encoding":{"detail":{"field":"id"}}},
{"data":{"name":"zticks"},"transform":[{"calculate":"147*datum.x-113*datum.y","as":"u"},{"calculate":"46.7*datum.x+62.4*datum.y+134*datum.z","as":"v"}],"mark":{"type":"text","align":"right","baseline":"middle","dx":-7,"dy":-1.5,"font":"Liberation Sans","fontSize":9.6,"color":"#222"},"encoding":{"text":{"field":"t"}}},
{"data":{"name":"xticks"},"transform":[{"calculate":"147*datum.x-113*datum.y","as":"u"},{"calculate":"46.7*datum.x+62.4*datum.y+134*datum.z","as":"v"}],"mark":{"type":"text","align":"left","baseline":"middle","dx":4,"dy":9,"font":"Liberation Sans","fontSize":9.6,"color":"#222"},"encoding":{"text":{"field":"t"}}},
{"data":{"name":"yticks"},"transform":[{"calculate":"147*datum.x-113*datum.y","as":"u"},{"calculate":"46.7*datum.x+62.4*datum.y+134*datum.z","as":"v"}],"mark":{"type":"text","align":"right","baseline":"middle","dx":-6,"dy":8.7,"font":"Liberation Sans","fontSize":9.6,"color":"#222"},"encoding":{"text":{"field":"t"}}},
{"data":{"values":[{"t":"x","u":73.5,"v":23.35}]},"mark":{"type":"text","baseline":"middle","dx":-2.5,"dy":36,"font":"Liberation Sans","fontSize":9.6,"color":"#222"},"encoding":{"text":{"field":"t"}}},
{"data":{"values":[{"t":"y","u":-56.5,"v":31.2}]},"mark":{"type":"text","baseline":"middle","dx":-8,"dy":41.5,"font":"Liberation Sans","fontSize":9.6,"color":"#222"},"encoding":{"text":{"field":"t"}}}
]},
{"width":20,"height":300,
"resolve":{"axis":{"y":"independent"}},
"layer":[
{"data":{"name":"bar"},"mark":{"type":"rect"},"encoding":{"x":{"datum":0,"type":"quantitative","scale":{"domain":[0,1],"nice":false,"zero":false},"axis":null},"x2":{"datum":1},"y":{"field":"a","type":"quantitative","scale":{"domain":[-0.1414,1.0873],"nice":false,"zero":false},"axis":{"orient":"right","title":null,"domain":false,"grid":false,"values":[0,0.1,0.2,0.3,0.4,0.5,0.6,0.7,0.8,0.9],"format":".1~f","tickSize":-3,"tickColor":"#555","labelPadding":4,"labelFont":"Liberation Sans","labelFontSize":9.6,"labelColor":"#222","labelOverlap":false,"labelFlush":false}},"y2":{"datum":1},"color":{"field":"c","type":"quantitative","legend":null,"scale":{"domain":[0,0.125,0.375,0.625,0.875,1],"range":["#000080","#0000ff","#00ffff","#ffff00","#ff0000","#800000"],"interpolate":"rgb"}}}},
{"data":{"values":[{"a":0,"b":1}]},"mark":{"type":"rect","filled":false,"stroke":"#555","strokeWidth":1},"encoding":{"x":{"datum":0,"type":"quantitative","scale":{"domain":[0,1],"nice":false,"zero":false},"axis":null},"x2":{"datum":1},"y":{"field":"a","type":"quantitative","scale":{"domain":[-0.1414,1.0873],"nice":false,"zero":false},"axis":{"orient":"left","title":null,"domain":false,"grid":false,"labels":false,"values":[0,0.1,0.2,0.3,0.4,0.5,0.6,0.7,0.8,0.9],"tickSize":-3,"tickColor":"#555"}},"y2":{"field":"b"}}}
]},
{"width":383,"height":300,
"title":{"text":"Initial desired state \\varphi_d at t = 0","font":"Liberation Sans","fontSize":9.6,"fontWeight":"normal","color":"#222","anchor":"middle","frame":"group","offset":0,"dx":43.5,"dy":16},
"encoding":{"x":{"field":"u","type":"quantitative","axis":null,"scale":{"domain":[-221.3,161.7],"nice":false,"zero":false}},"y":{"field":"v","type":"quantitative","axis":null,"scale":{"domain":[-34.3,265.7],"nice":false,"zero":false}}},
"layer":[
{"data":{"name":"contours"},"transform":[{"lookup":"s","from":{"data":{"name":"levels"},"key":"s","fields":["r","k"]}},{"calculate":"147*datum.x-113*datum.y","as":"u"},{"calculate":"46.7*datum.x+62.4*datum.y+134*datum.r","as":"v"}],"mark":{"type":"area","interpolate":"monotone"},"encoding":{"y2":{"datum":265.7},"detail":{"field":"s"},"color":{"field":"k","type":"quantitative","legend":null,"scale":{"domain":[0,0.125,0.375,0.625,0.875,1],"range":["#000080","#0000ff","#00ffff","#ffff00","#ff0000","#800000"],"interpolate":"rgb"}}}},
{"data":{"name":"outlineR"},"mark":{"type":"area","interpolate":"monotone","color":"white"},"encoding":{"y2":{"datum":265.7}}},
{"data":{"name":"wallsR"},"transform":[{"calculate":"147*datum.x-113*datum.y","as":"u"},{"calculate":"46.7*datum.x+62.4*datum.y+134*datum.z","as":"v"}],"mark":{"type":"line","color":"#8a8a8a","strokeWidth":1,"strokeDash":[1,3]},"encoding":{"detail":{"field":"id"}}},
{"data":{"name":"ax"},"transform":[{"calculate":"147*datum.x-113*datum.y","as":"u"},{"calculate":"46.7*datum.x+62.4*datum.y+134*datum.z","as":"v"}],"mark":{"type":"line","color":"#777","strokeWidth":1},"encoding":{"detail":{"field":"id"}}},
{"data":{"name":"zticks"},"transform":[{"calculate":"147*datum.x-113*datum.y","as":"u"},{"calculate":"46.7*datum.x+62.4*datum.y+134*datum.z","as":"v"}],"mark":{"type":"text","align":"right","baseline":"middle","dx":-7,"dy":-1.5,"font":"Liberation Sans","fontSize":9.6,"color":"#222"},"encoding":{"text":{"field":"t"}}},
{"data":{"name":"xticks"},"transform":[{"calculate":"147*datum.x-113*datum.y","as":"u"},{"calculate":"46.7*datum.x+62.4*datum.y+134*datum.z","as":"v"}],"mark":{"type":"text","align":"left","baseline":"middle","dx":4,"dy":9,"font":"Liberation Sans","fontSize":9.6,"color":"#222"},"encoding":{"text":{"field":"t"}}},
{"data":{"name":"yticks"},"transform":[{"calculate":"147*datum.x-113*datum.y","as":"u"},{"calculate":"46.7*datum.x+62.4*datum.y+134*datum.z","as":"v"}],"mark":{"type":"text","align":"right","baseline":"middle","dx":-6,"dy":8.7,"font":"Liberation Sans","fontSize":9.6,"color":"#222"},"encoding":{"text":{"field":"t"}}},
{"data":{"values":[{"t":"x","u":73.5,"v":23.35}]},"mark":{"type":"text","baseline":"middle","dx":-2.5,"dy":36,"font":"Liberation Sans","fontSize":9.6,"color":"#222"},"encoding":{"text":{"field":"t"}}},
{"data":{"values":[{"t":"y","u":-56.5,"v":31.2}]},"mark":{"type":"text","baseline":"middle","dx":-8,"dy":41.5,"font":"Liberation Sans","fontSize":9.6,"color":"#222"},"encoding":{"text":{"field":"t"}}}
]},
{"width":20,"height":300,
"resolve":{"axis":{"y":"independent"}},
"layer":[
{"data":{"name":"bar"},"mark":{"type":"rect"},"encoding":{"x":{"datum":0,"type":"quantitative","scale":{"domain":[0,1],"nice":false,"zero":false},"axis":null},"x2":{"datum":1},"y":{"field":"a","type":"quantitative","scale":{"domain":[-0.1414,1.0873],"nice":false,"zero":false},"axis":{"orient":"right","title":null,"domain":false,"grid":false,"values":[0.1,0.2,0.3,0.4,0.5,0.6,0.7,0.8,0.9],"format":".1~f","tickSize":-3,"tickColor":"#555","labelPadding":4,"labelFont":"Liberation Sans","labelFontSize":9.6,"labelColor":"#222","labelOverlap":false,"labelFlush":false}},"y2":{"datum":1},"color":{"field":"c","type":"quantitative","legend":null,"scale":{"domain":[0,0.125,0.375,0.625,0.875,1],"range":["#000080","#0000ff","#00ffff","#ffff00","#ff0000","#800000"],"interpolate":"rgb"}}}},
{"data":{"values":[{"a":0,"b":1}]},"mark":{"type":"rect","filled":false,"stroke":"#555","strokeWidth":1},"encoding":{"x":{"datum":0,"type":"quantitative","scale":{"domain":[0,1],"nice":false,"zero":false},"axis":null},"x2":{"datum":1},"y":{"field":"a","type":"quantitative","scale":{"domain":[-0.1414,1.0873],"nice":false,"zero":false},"axis":{"orient":"left","title":null,"domain":false,"grid":false,"labels":false,"values":[0.1,0.2,0.3,0.4,0.5,0.6,0.7,0.8,0.9],"tickSize":-3,"tickColor":"#555"}},"y2":{"field":"b"}}}
]}
]}
